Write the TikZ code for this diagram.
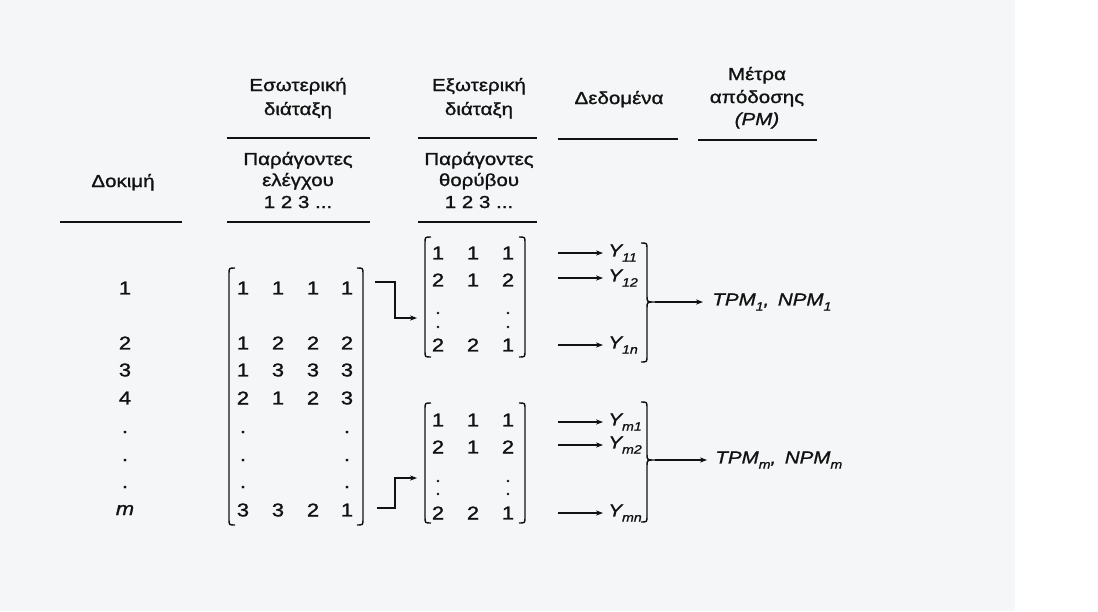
\documentclass[tikz,border=0pt]{standalone}
\usepackage{fontspec}
\setmainfont{Liberation Sans}
\newfontfamily\widesans[FakeStretch=1.18,FakeBold=1.2]{Liberation Sans}
\usetikzlibrary{arrows.meta,fit}
\definecolor{paper}{RGB}{244,246,247}
\definecolor{ink}{RGB}{18,18,18}
% lowered italic subscript in the text font
\newcommand\lowsub[1]{\raisebox{-0.55ex}{\fontsize{6}{7}\selectfont\itshape #1}}

\begin{document}
\begin{tikzpicture}[x=0.5pt,y=-0.5pt,
  hd/.style={font=\widesans\fontsize{8.7}{10}\selectfont, inner sep=0pt, anchor=base, text=ink},
  num/.style={font=\widesans\fontsize{9.3}{11}\selectfont, inner sep=0pt, text=ink},
  yl/.style={font=\widesans\fontsize{8.7}{10}\selectfont\itshape, inner sep=0pt, anchor=west, text=ink},
  dotmark/.style={circle, fill=ink, inner sep=0pt, minimum size=1.4pt},
  rulez/.style={line width=0.9pt, draw=ink},
  brk/.style={line width=0.7pt, draw=ink},
  arr/.style={line width=0.6pt, draw=ink, -{Stealth[length=3.5pt,width=2.6pt]}},
  box/.style={inner sep=0pt, draw=none},
]
\useasboundingbox (0,0) rectangle (1098,611);
\fill[white] (0,0) rectangle (1098,611);
\fill[paper] (0,0) rectangle (1015,611);

% column headings
\node[hd] (e1) at (298,91) {Εσωτερική};
\node[hd] (e2) at (298,115) {διάταξη};
\node[hd] (x1) at (479,91) {Εξωτερική};
\node[hd] (x2) at (479,115) {διάταξη};
\node[hd] (d1) at (619,104) {Δεδομένα};
\node[hd] (p1) at (757,80) {Μέτρα};
\node[hd] (p2) at (757,103) {απόδοσης};
\node[hd] (p3) at (757,125) {\itshape (PM)};

\node[hd] (k1) at (123,187) {Δοκιμή};
\node[hd] (c1) at (298,165) {Παράγοντες};
\node[hd] (c2) at (298,186) {ελέγχου};
\node[hd] (c3) at (298,208) {1 2 3 ...};
\node[hd] (n1) at (479,165) {Παράγοντες};
\node[hd] (n2) at (479,186) {θορύβου};
\node[hd] (n3) at (479,208) {1 2 3 ...};

% heading rules
\draw[rulez] (227,138) -- (370,138);
\draw[rulez] (418,138) -- (537,138);
\draw[rulez] (558,139) -- (678,139);
\draw[rulez] (698,140) -- (817,140);
\draw[rulez] (60,222) -- (182,222);
\draw[rulez] (227,222) -- (370,222);
\draw[rulez] (418,222) -- (537,222);

% run numbers
\foreach \t/\y [count=\i] in {1/288,2/343,3/370,4/398,./432,./460,./487,{\itshape m}/510}
  \node[num] (row\i) at (125,\y) {\t};

% inner array
\foreach \y/\a/\b/\c/\d [count=\r] in
  {288/1/1/1/1, 343/1/2/2/2, 370/1/3/3/3, 398/2/1/2/3,
   432/./{}/{}/., 460/./{}/{}/., 487/./{}/{}/., 510/3/3/2/1}
{
  \node[num] (m\r a) at (243,\y) {\a};
  \node[num] (m\r b) at (278,\y) {\b};
  \node[num] (m\r c) at (313,\y) {\c};
  \node[num] (m\r d) at (347,\y) {\d};
}
\draw[brk] (235,268) .. controls (229,268) .. (229,274) -- (229,519) .. controls (229,525) .. (235,525);
\draw[brk] (357,268) .. controls (363,268) .. (363,274) -- (363,519) .. controls (363,525) .. (357,525);
\node[box, fit={(229,268) (363,525)}] (M) {};

% outer arrays
\foreach \nm/\top/\ra/\rb/\ca/\cb/\rn in {A/237/253/280/313/327/345, B/403/420/447/481/494/513}
{
  \node[num] (\nm1a) at (438,\ra) {1};
  \node[num] (\nm1b) at (473,\ra) {1};
  \node[num] (\nm1c) at (508,\ra) {1};
  \node[num] (\nm2a) at (438,\rb) {2};
  \node[num] (\nm2b) at (473,\rb) {1};
  \node[num] (\nm2c) at (508,\rb) {2};
  \node[dotmark] (\nm da) at (438,\ca) {};
  \node[dotmark] (\nm db) at (438,\cb) {};
  \node[dotmark] (\nm dc) at (508,\ca) {};
  \node[dotmark] (\nm dd) at (508,\cb) {};
  \node[num] (\nm na) at (438,\rn) {2};
  \node[num] (\nm nb) at (473,\rn) {2};
  \node[num] (\nm nc) at (508,\rn) {1};
  \draw[brk] (431,\top) .. controls (425,\top) .. (425,\top+6) -- (425,\top+114) .. controls (425,\top+120) .. (431,\top+120);
  \draw[brk] (519,\top) .. controls (525,\top) .. (525,\top+6) -- (525,\top+114) .. controls (525,\top+120) .. (519,\top+120);
  \node[box, fit={(425,\top) (525,\top+120)}] (\nm) {};
}

% links from the inner array to the outer arrays
\coordinate (tapA) at (375,282);
\coordinate (inA) at (417,318);
\coordinate (tapB) at (377,508);
\coordinate (inB) at (417,478);
\draw[arr] (tapA) -- ++(20,0) |- (inA);
\draw[arr] (tapB) -- ++(18,0) |- (inB);

% responses
\foreach \nm/\lab/\y in {y11/11/253, y12/12/278, y1n/1n/345, ym1/m1/422, ym2/m2/445, ymn/mn/513}
{
  \node[yl] (\nm) at (608,\y) {Y\lowsub{\lab}};
  \draw[arr] ([xshift=-25pt]\nm.west) -- ([xshift=-2.5pt]\nm.west);
}

% grouping braces and performance measures
\foreach \nm/\top/\cy/\bot in {GA/243/302/362, GB/402/460/522}
{
  \draw[brk] (641,\top) .. controls (647,\top) .. (647,\top+6) -- (647,\cy-6)
    .. controls (647,\cy) .. (655,\cy) .. controls (647,\cy) .. (647,\cy+6)
    -- (647,\bot-6) .. controls (647,\bot) .. (641,\bot);
  \coordinate (\nm tip) at (655,\cy);
}
\node[yl] (pmA) at (712,302) {TPM\lowsub{1}, \,NPM\lowsub{1}};
\node[yl] (pmB) at (715,460) {TPM\lowsub{m}, \,NPM\lowsub{m}};
\draw[arr] (GAtip) -- ([xshift=-4.5pt]pmA.west);
\draw[arr] (GBtip) -- ([xshift=-4pt]pmB.west);
\end{tikzpicture}
\end{document}
